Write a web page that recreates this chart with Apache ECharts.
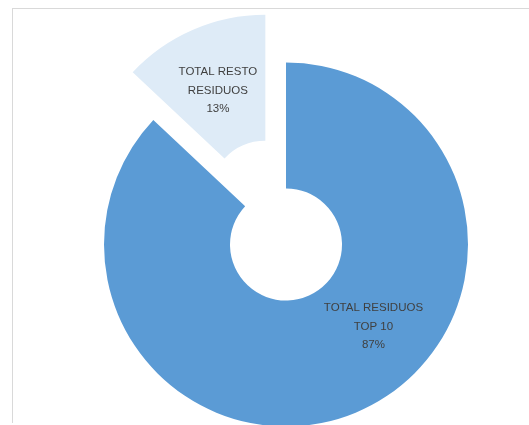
<!DOCTYPE html>
<html>
<head>
<meta charset="utf-8">
<script src="https://cdn.jsdelivr.net/npm/echarts@6/dist/echarts.min.js"></script>
<style>
  html, body { margin: 0; padding: 0; background: #fff; }
  #frame { position: absolute; left: 12px; top: 8px; width: 517px; height: 414px;
           border-left: 1px solid #d9d9d9; border-top: 1px solid #d9d9d9; }
  #main { position: absolute; left: 0; top: 0; width: 529px; height: 425px; }
</style>
</head>
<body>
<div id="frame"></div>
<div id="main"></div>
<script>
// datos del grafico
var categories = ['TOTAL RESIDUOS\nTOP 10', 'TOTAL RESTO\nRESIDUOS'];
var values = [87, 13];
var colors = ['#5b9bd5', '#deebf7'];
var exploded = [false, true];

(function (){
var dom = document.getElementById("main");
var myChart = echarts.init(dom);
var option = null;

var pieData = categories.map(function (name, i) {
    return {
        name: name,
        value: values[i],
        selected: exploded[i],
        itemStyle: { color: colors[i] }
    };
});

option = {
    animation: false,
    series : [
        {
            name: 'Residuos',
            type: 'pie',
            center: [286, 244.5],
            radius: [56, 182],
            startAngle: 90,
            clockwise: true,
            selectedMode: 'single',
            selectedOffset: 52,
            percentPrecision: 0,
            label: {
                show: true,
                position: 'inside',
                formatter: '{b}\n{d}%',
                color: '#404040',
                fontFamily: 'Liberation Sans',
                fontSize: 11.5,
                lineHeight: 18.5,
                align: 'center'
            },
            labelLine: { show: false },
            // ajuste de las etiquetas para que queden como en el original
            labelLayout: function (params) {
                if (params.dataIndex === 0) {
                    return { dx: 39, dy: -30 };
                }
                return { dx: 1, dy: 6 };
            },
            emphasis: { disabled: true },
            data: pieData
        }
    ]
};
if (option && typeof option === "object") {
    myChart.setOption(option, true);
}
})();
</script>
</body>
</html>
